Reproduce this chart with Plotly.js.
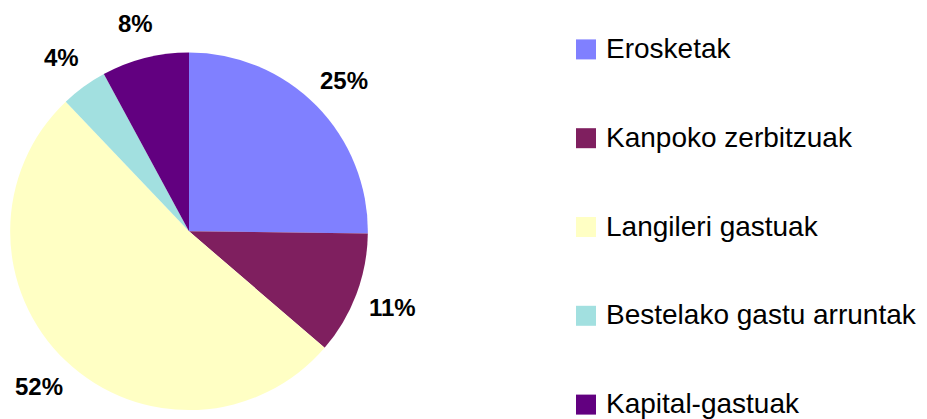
<!DOCTYPE html>
<html>
<head>
<meta charset="utf-8">
<script src="https://cdn.plot.ly/plotly-3.0.1.min.js"></script>
<style>html,body{margin:0;padding:0;background:#fff;}#chart{width:927px;height:419px;}</style>
</head>
<body>
<div id="chart"></div>
<script>
var categories = ["Erosketak", "Kanpoko zerbitzuak", "Langileri gastuak", "Bestelako gastu arruntak", "Kapital-gastuak"];
var values = [25.2, 11.1, 51.6, 4.2, 7.9];
var colors = ["#8080FF", "#7F1F5F", "#FFFFC4", "#A2E0E0", "#620080"];

// legend entries: one blank line above and below to space the items like the reference
var legendLabels = categories.map(function (c) {
  return "&nbsp;<br><span style='font-size:28px'>" + c + "</span><br>&nbsp;";
});

var pieDomain = {x: [8/927, 370/927], y: [9/419, 371/419]};

var trace = {
  type: "pie",
  labels: legendLabels,
  values: values,
  sort: false,
  direction: "clockwise",
  rotation: 0,
  marker: {colors: colors, line: {width: 0}},
  textinfo: "none",
  hoverinfo: "percent",
  domain: pieDomain
};

// percentage labels placed outside each slice, along its mid-angle
var W = 927, H = 419;
var cx = (pieDomain.x[0] + pieDomain.x[1]) / 2 * W;
var cy = (pieDomain.y[0] + pieDomain.y[1]) / 2 * H;
var r = (pieDomain.x[1] - pieDomain.x[0]) / 2 * W;
var total = values.reduce(function (a, b) { return a + b; }, 0);
var cum = 0;
var annotations = values.map(function (v) {
  var mid = (cum + v / 2) / total * 2 * Math.PI;
  cum += v;
  var d = r * 1.2;
  return {
    xref: "paper", yref: "paper",
    x: (cx + d * Math.sin(mid)) / W,
    y: (cy + d * Math.cos(mid)) / H,
    xanchor: "center", yanchor: "middle",
    showarrow: false,
    text: "<b>" + Math.round(v / total * 100) + "%</b>",
    font: {family: "Liberation Sans, Arial, sans-serif", size: 24, color: "#000"}
  };
});

var layout = {
  width: W, height: H,
  margin: {l: 0, r: 0, t: 0, b: 0},
  paper_bgcolor: "#fff",
  showlegend: true,
  annotations: annotations,
  legend: {
    x: 566/927, y: 1 + 5/419, xanchor: "left", yanchor: "top",
    font: {family: "Liberation Sans, Arial, sans-serif", size: 22, color: "#000"},
    tracegroupgap: 0,
    maxheight: 600,
    itemclick: false
  }
};

function enlargeSymbols() {
  var paths = document.querySelectorAll("#chart .legend .legendpoints path");
  paths.forEach(function (p) { p.setAttribute("d", "M10,10H-10V-10H10Z"); });
}

Plotly.newPlot("chart", [trace], layout, {displayModeBar: false, staticPlot: true}).then(enlargeSymbols);
</script>
</body>
</html>
